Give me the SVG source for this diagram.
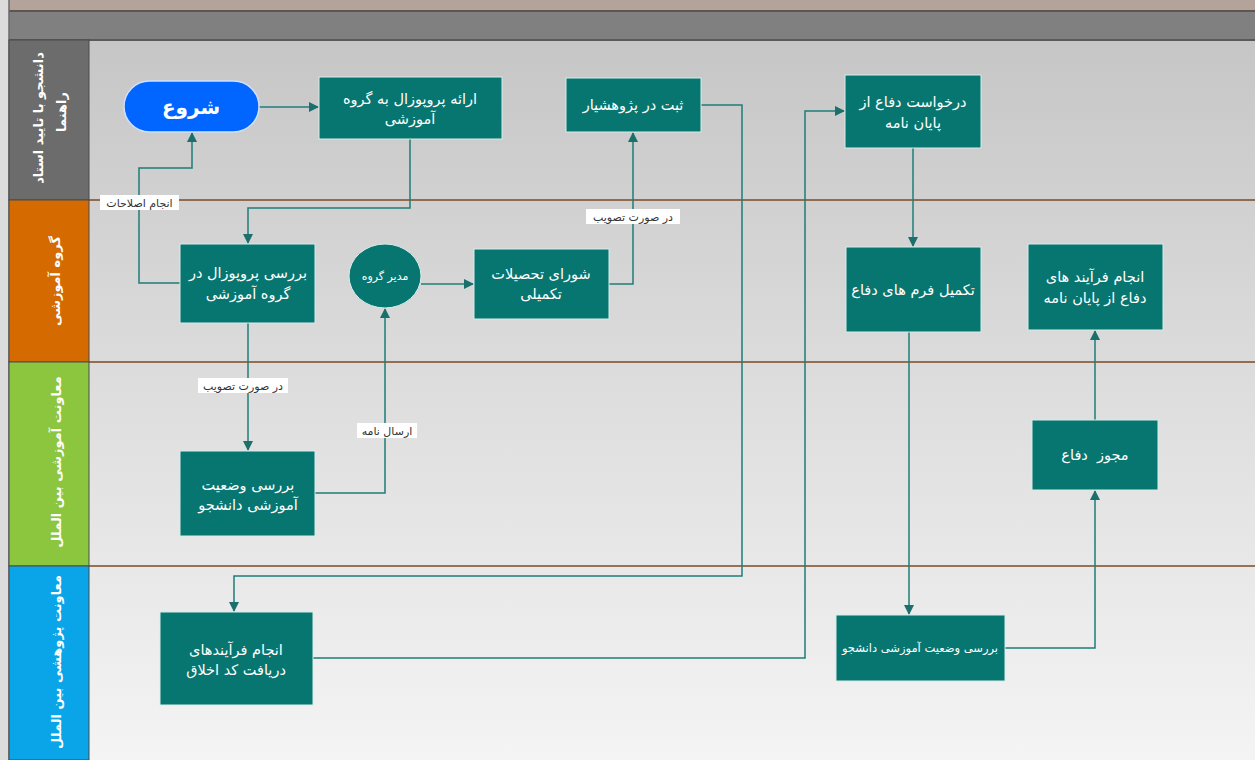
<svg xmlns="http://www.w3.org/2000/svg" width="1255" height="760" viewBox="0 0 1255 760">
<defs>
<linearGradient id="bg" x1="0" y1="0" x2="0" y2="1">
<stop offset="0" stop-color="#c6c6c6"/>
<stop offset="0.5" stop-color="#dedede"/>
<stop offset="1" stop-color="#f4f4f4"/>
</linearGradient>
<marker id="arr" viewBox="0 0 10 10" refX="9" refY="5" markerWidth="10" markerHeight="10" markerUnits="userSpaceOnUse" orient="auto">
<path d="M0,0 L10,5 L0,10 z" fill="#1b6f6c"/>
</marker>
<style>
.box{fill:#087670;stroke:#d6ecea;stroke-width:1}
.bt{font-family:"DejaVu Sans",sans-serif;font-size:14.5px;fill:#ffffff;text-anchor:middle;direction:rtl}
.lt{font-family:"DejaVu Sans",sans-serif;font-size:13px;font-weight:bold;fill:#ffffff;text-anchor:middle;direction:rtl}
.cn{fill:none;stroke:#1f7d79;stroke-width:1.5}
.lbl{font-family:"DejaVu Sans",sans-serif;font-size:11px;fill:#333333;text-anchor:middle;direction:rtl}
.lblbg{fill:#ffffff}
.div{stroke:#7a4a26;stroke-width:1.5}
</style>
</defs>

<g id="background">
<rect x="0" y="0" width="1255" height="760" fill="#dcdcdc"/>
<rect x="89" y="40" width="1166" height="720" fill="url(#bg)"/>
<rect x="9" y="0" width="1246" height="11" fill="#b3a39b"/>
<rect x="9" y="11" width="1246" height="29" fill="#808080"/>
<line x1="9" y1="11" x2="1255" y2="11" stroke="#5e5650" stroke-width="2"/>
<line x1="9" y1="40" x2="1255" y2="40" stroke="#5a5a5a" stroke-width="2"/>
<line x1="9" y1="0" x2="9" y2="760" stroke="#6a6a6a" stroke-width="1.5"/>
</g>

<g id="lanes">
<g id="lane1">
<rect x="9" y="40" width="80" height="160" fill="#6c6c6c" stroke="#4a4a4a" stroke-width="1"/>
<text class="lt" transform="translate(38,118) rotate(-90)" dominant-baseline="central">دانشجو با تایید استاد</text>
<text class="lt" transform="translate(61,112) rotate(-90)" dominant-baseline="central">راهنما</text>
</g>
<g id="lane2">
<rect x="9" y="200" width="80" height="162" fill="#d46a00" stroke="#4a4a4a" stroke-width="1"/>
<text class="lt" transform="translate(55,281) rotate(-90)" dominant-baseline="central">گروه آموزشی</text>
</g>
<g id="lane3">
<rect x="9" y="362" width="80" height="204" fill="#8cc63f" stroke="#4a4a4a" stroke-width="1"/>
<text class="lt" transform="translate(56,462) rotate(-90)" dominant-baseline="central">معاونت آموزشی بین الملل</text>
</g>
<g id="lane4">
<rect x="9" y="566" width="80" height="194" fill="#0aa5e8" stroke="#4a4a4a" stroke-width="1"/>
<text class="lt" transform="translate(56,662) rotate(-90)" dominant-baseline="central">معاونت پژوهشی بین الملل</text>
</g>
<line class="div" x1="89" y1="200" x2="1255" y2="200"/>
<line class="div" x1="89" y1="362" x2="1255" y2="362"/>
<line class="div" x1="89" y1="566" x2="1255" y2="566"/>
</g>

<g id="connectors">
<path class="cn" d="M259,107 H318" marker-end="url(#arr)"/>
<path class="cn" d="M410,139 V208 H248 V243" marker-end="url(#arr)"/>
<path class="cn" d="M180,283 H139 V168 H192 V133" marker-end="url(#arr)"/>
<path class="cn" d="M248,323 V450" marker-end="url(#arr)"/>
<path class="cn" d="M315,493 H385 V309" marker-end="url(#arr)"/>
<path class="cn" d="M421,284 H473" marker-end="url(#arr)"/>
<path class="cn" d="M609,284 H633 V133" marker-end="url(#arr)"/>
<path class="cn" d="M701,105 H742 V576 H234 V611" marker-end="url(#arr)"/>
<path class="cn" d="M313,658 H805 V111 H844" marker-end="url(#arr)"/>
<path class="cn" d="M913,148 V246" marker-end="url(#arr)"/>
<path class="cn" d="M909,332 V614" marker-end="url(#arr)"/>
<path class="cn" d="M1005,648 H1095 V491" marker-end="url(#arr)"/>
<path class="cn" d="M1095,420 V331" marker-end="url(#arr)"/>
<g id="labels">
<rect class="lblbg" x="100" y="195" width="79" height="15"/>
<text class="lbl" x="139.5" y="207">انجام اصلاحات</text>
<rect class="lblbg" x="198" y="378" width="90" height="15"/>
<text class="lbl" x="243" y="390">در صورت تصویب</text>
<rect class="lblbg" x="357" y="423" width="60" height="15"/>
<text class="lbl" x="387" y="435">ارسال نامه</text>
<rect class="lblbg" x="586" y="209" width="94" height="15"/>
<text class="lbl" x="633" y="221">در صورت تصویب</text>
</g>
</g>

<g id="n-start">
<rect x="124" y="81" width="135" height="51" rx="25.5" fill="#0066ff" stroke="#d0e0ff" stroke-width="1.5"/>
<text class="bt" x="191" y="114" style="font-size:20px;font-weight:bold">شروع</text>
</g>
<g id="n-proposal">
<rect class="box" x="319" y="77" width="183" height="62"/>
<text class="bt" x="410" y="104">ارائه پروپوزال به گروه</text>
<text class="bt" x="410" y="124">آموزشی</text>
</g>
<g id="n-register">
<rect class="box" x="566" y="78" width="135" height="54"/>
<text class="bt" x="633" y="110">ثبت در پژوهشیار</text>
</g>
<g id="n-request">
<rect class="box" x="845" y="75" width="136" height="73"/>
<text class="bt" x="913" y="107">درخواست دفاع از</text>
<text class="bt" x="913" y="128">پایان نامه</text>
</g>
<g id="n-review-proposal">
<rect class="box" x="180" y="244" width="135" height="79"/>
<text class="bt" x="248" y="278">بررسی پروپوزال در</text>
<text class="bt" x="248" y="299">گروه آموزشی</text>
</g>
<g id="n-head">
<ellipse cx="385" cy="276" rx="36" ry="32" fill="#087670" stroke="#d6ecea" stroke-width="1"/>
<text class="bt" x="385" y="280" style="font-size:11px">مدیر گروه</text>
</g>
<g id="n-council">
<rect class="box" x="474" y="249" width="135" height="70"/>
<text class="bt" x="541" y="279">شورای تحصیلات</text>
<text class="bt" x="541" y="299">تکمیلی</text>
</g>
<g id="n-forms">
<rect class="box" x="846" y="247" width="135" height="85"/>
<text class="bt" x="913" y="295">تکمیل فرم های دفاع</text>
</g>
<g id="n-defense">
<rect class="box" x="1028" y="244" width="135" height="86"/>
<text class="bt" x="1095" y="282">انجام فرآیند های</text>
<text class="bt" x="1095" y="303">دفاع از پایان نامه</text>
</g>
<g id="n-status1">
<rect class="box" x="180" y="451" width="135" height="85"/>
<text class="bt" x="248" y="490">بررسی وضعیت</text>
<text class="bt" x="248" y="510">آموزشی دانشجو</text>
</g>
<g id="n-permit">
<rect class="box" x="1032" y="420" width="126" height="70"/>
<text class="bt" x="1095" y="460">مجوز&#160; دفاع</text>
</g>
<g id="n-ethics">
<rect class="box" x="160" y="612" width="153" height="93"/>
<text class="bt" x="236" y="655">انجام فرآیندهای</text>
<text class="bt" x="236" y="675">دریافت کد اخلاق</text>
</g>
<g id="n-status2">
<rect class="box" x="836" y="615" width="169" height="66"/>
<text class="bt" x="920" y="652" style="font-size:11.5px">بررسی وضعیت آموزشی دانشجو</text>
</g>
</svg>
